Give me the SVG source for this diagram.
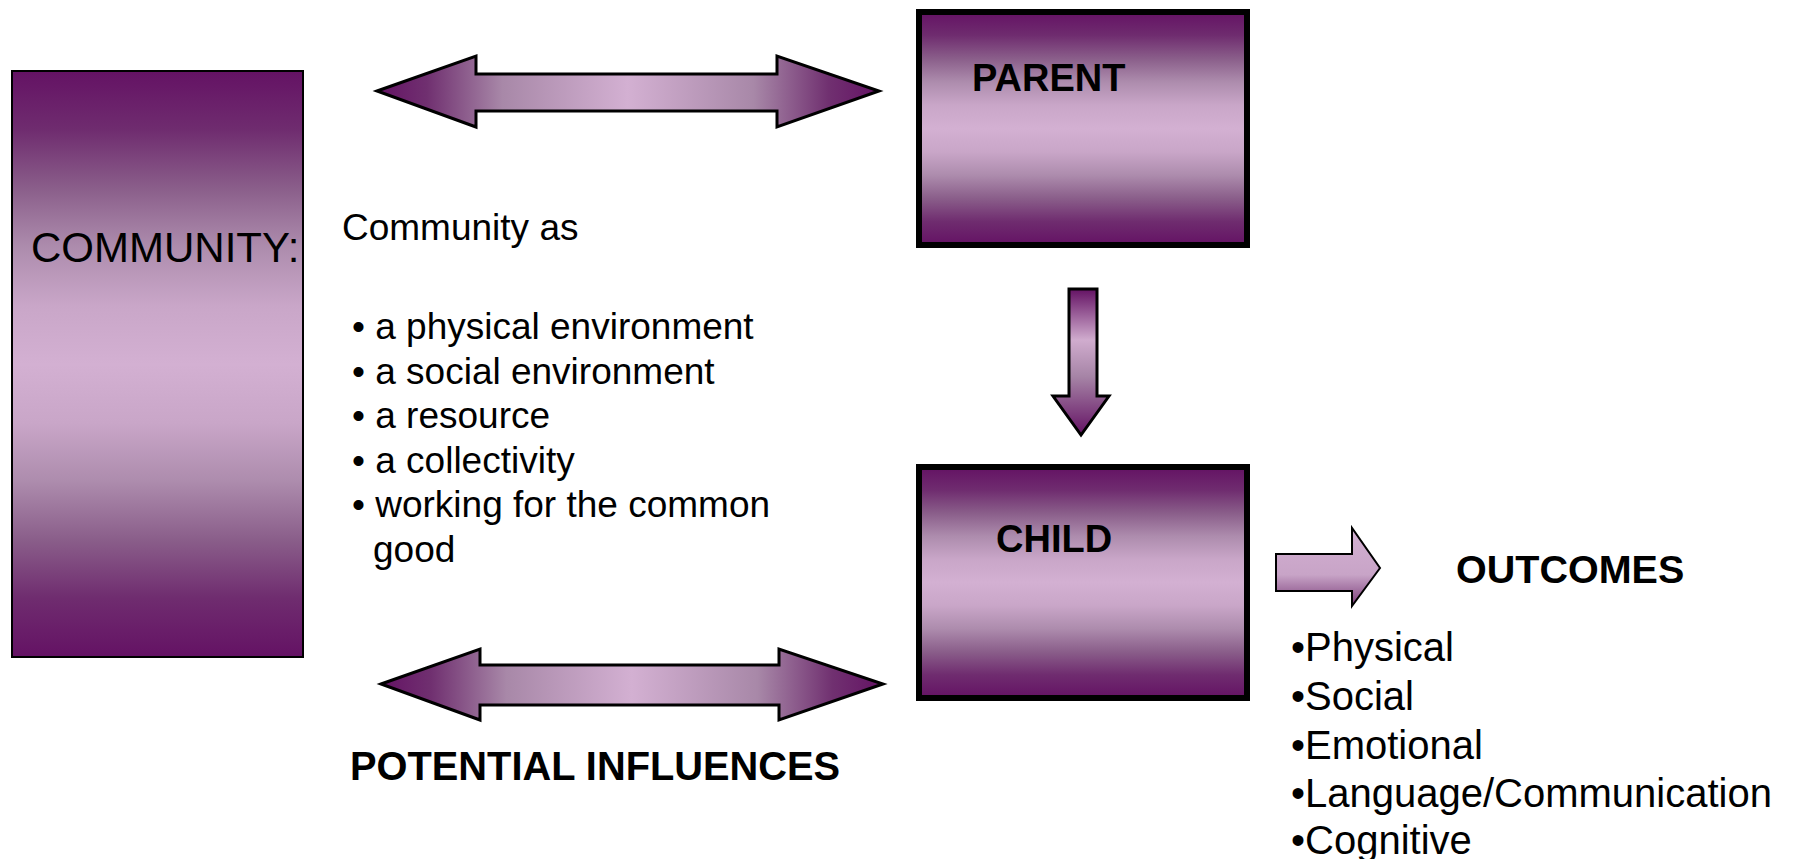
<svg xmlns="http://www.w3.org/2000/svg" width="1794" height="859" viewBox="0 0 1794 859">
<defs>
<linearGradient id="gv" x1="0" y1="0" x2="0" y2="1">
<stop offset="0" stop-color="#641264"/>
<stop offset="0.1" stop-color="#6f2c6f"/>
<stop offset="0.2" stop-color="#8a5e8a"/>
<stop offset="0.3" stop-color="#ad8cad"/>
<stop offset="0.4" stop-color="#c9a6c8"/>
<stop offset="0.5" stop-color="#d3b0d2"/>
<stop offset="0.6" stop-color="#c9a6c8"/>
<stop offset="0.7" stop-color="#ad8cad"/>
<stop offset="0.8" stop-color="#8a5e8a"/>
<stop offset="0.9" stop-color="#6f2c6f"/>
<stop offset="1" stop-color="#641264"/>
</linearGradient>
<linearGradient id="gh" x1="0" y1="0" x2="1" y2="0">
<stop offset="0" stop-color="#641264"/>
<stop offset="0.1" stop-color="#703070"/>
<stop offset="0.25" stop-color="#a888a8"/>
<stop offset="0.5" stop-color="#d3b0d2"/>
<stop offset="0.75" stop-color="#a888a8"/>
<stop offset="0.9" stop-color="#703070"/>
<stop offset="1" stop-color="#641264"/>
</linearGradient>
<linearGradient id="gd" x1="0" y1="0" x2="0" y2="1">
<stop offset="0" stop-color="#641264"/>
<stop offset="0.35" stop-color="#d0acce"/>
<stop offset="0.6" stop-color="#a684a6"/>
<stop offset="1" stop-color="#641264"/>
</linearGradient>
<linearGradient id="go" x1="0" y1="0" x2="0" y2="1">
<stop offset="0" stop-color="#d3b0d2"/>
<stop offset="0.6" stop-color="#c8a4c7"/>
<stop offset="1" stop-color="#7a3c78"/>
</linearGradient>
<style>
.t{font-family:"Liberation Sans",Arial,sans-serif;fill:#000}
.b{font-weight:bold}
.arrow{stroke:#000;stroke-width:3;stroke-linejoin:miter}
</style>
</defs>

<g id="community">
<rect x="12" y="71" width="291" height="586" fill="url(#gv)" stroke="#000" stroke-width="2"/>
<text class="t" x="31" y="262" font-size="42">COMMUNITY:</text>
</g>

<g id="community-text">
<text class="t" x="342" y="240" font-size="37">Community as</text>
<text class="t" font-size="37">
<tspan x="352" y="339">• a physical environment</tspan>
<tspan x="352" y="384">• a social environment</tspan>
<tspan x="352" y="428">• a resource</tspan>
<tspan x="352" y="473">• a collectivity</tspan>
<tspan x="352" y="517">• working for the common</tspan>
<tspan x="373" y="562">good</tspan>
</text>
</g>

<g id="parent">
<rect x="919" y="12" width="328" height="233" fill="url(#gv)" stroke="#000" stroke-width="6"/>
<text class="t b" x="972" y="91" font-size="38">PARENT</text>
</g>

<g id="child">
<rect x="919" y="467" width="328" height="231" fill="url(#gv)" stroke="#000" stroke-width="6"/>
<text class="t b" x="996" y="552" font-size="38">CHILD</text>
</g>

<g id="outcomes">
<text class="t b" x="1456" y="583" font-size="39.5">OUTCOMES</text>
<text class="t" font-size="40">
<tspan x="1291" y="661">•Physical</tspan>
<tspan x="1291" y="710">•Social</tspan>
<tspan x="1291" y="759">•Emotional</tspan>
<tspan x="1291" y="807">•Language/Communication</tspan>
<tspan x="1291" y="854">•Cognitive</tspan>
</text>
</g>

<g id="influences-label">
<text class="t b" x="350" y="780" font-size="39.8">POTENTIAL INFLUENCES</text>
</g>

<g id="connectors">
<polygon class="arrow" fill="url(#gh)" points="377,91 476,56 476,74 777,74 777,56 879,91 777,127 777,111 476,111 476,127"/>
<polygon class="arrow" fill="url(#gh)" points="381,684 480,649 480,665 779,665 779,649 883,684 779,720 779,705 480,705 480,720"/>
<polygon class="arrow" fill="url(#gd)" points="1069,289 1097,289 1097,396 1109,396 1081,435 1053,396 1069,396"/>
<polygon fill="url(#go)" stroke="#000" stroke-width="2" points="1276,554 1352,554 1352,528 1380,568 1352,606 1352,591 1276,591"/>
</g>
</svg>
